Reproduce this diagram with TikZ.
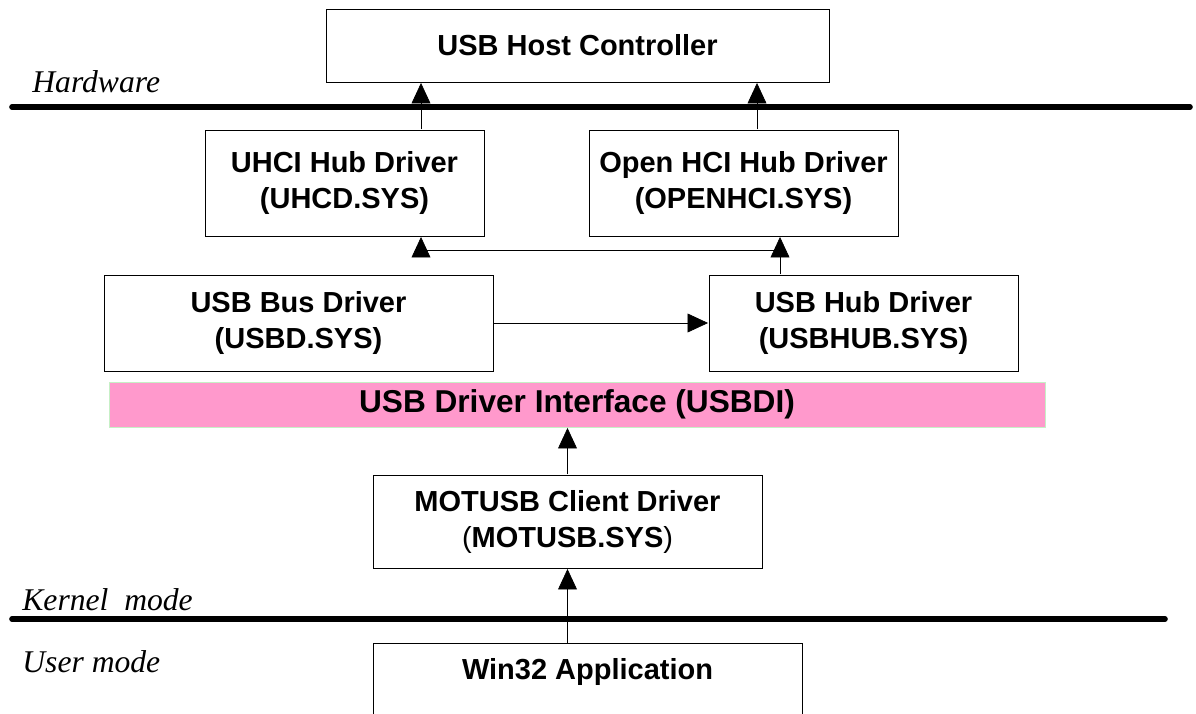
\documentclass[tikz,border=0pt]{standalone}
\usepackage{fontspec}
\setmainfont{Liberation Serif}
\setsansfont{Liberation Sans}
\usetikzlibrary{arrows.meta, positioning}
\definecolor{usbdipink}{HTML}{FF99CC}
\definecolor{usbdigreen}{HTML}{C6F0C6}

\begin{document}
\begin{tikzpicture}[x=0.02cm, y=-0.02cm]
			\tikzset {->, >={Triangle[length=12pt, width=11pt]}, line width=0.6pt,
				drvbox/.style={draw, rectangle, align=center, inner sep=0pt, font=\sffamily\bfseries\fontsize{16.5}{20.5}\selectfont},
				layer/.style={-, line width=3.2pt, line cap=round},
				side/.style={anchor=west, font=\itshape\fontsize{18}{20}\selectfont} }

			\useasboundingbox (0,0) rectangle (1196,713);

			% driver boxes
			\node[drvbox, minimum width=503*0.02cm, minimum height=73*0.02cm] (host) at (577.5,45.5) {USB Host Controller};
			\node[drvbox, minimum width=279*0.02cm, minimum height=106*0.02cm] (uhci) at (344.5,183) {UHCI Hub Driver\\(UHCD.SYS)};
			\node[drvbox, minimum width=309*0.02cm, minimum height=106*0.02cm] (ohci) at (743.5,183) {Open HCI Hub Driver\\(OPENHCI.SYS)};
			\node[drvbox, minimum width=389*0.02cm, minimum height=96*0.02cm] (bus) at (298.5,323) {USB Bus Driver\\(USBD.SYS)};
			\node[drvbox, minimum width=309*0.02cm, minimum height=96*0.02cm] (hub) at (863.5,323) {USB Hub Driver\\(USBHUB.SYS)};
			\node[drvbox, draw=usbdigreen, fill=usbdipink, minimum width=936*0.02cm, minimum height=45*0.02cm, font=\sffamily\bfseries\fontsize{18}{20}\selectfont] (usbdi) at (577,404.5) {USB Driver Interface (USBDI)};
			\node[drvbox, minimum width=389*0.02cm, minimum height=93*0.02cm] (mot) at (567.5,521.5) {MOTUSB Client Driver\\{\mdseries(}MOTUSB.SYS{\mdseries)}};
			\node[drvbox, minimum width=429*0.02cm, minimum height=110*0.02cm, anchor=north] (win) at (587.5,643) {};
			\node[font=\sffamily\bfseries\fontsize{16.5}{20.5}\selectfont] (wintext) at (587.5,672) {Win32 Application};

			% mode lines
			\coordinate (hwl) at (12,107);
			\coordinate (hwr) at (1190,107);
			\coordinate (kml) at (12,619);
			\coordinate (kmr) at (1165,619);
			\draw[layer] (hwl) -- (hwr);
			\draw[layer] (kml) -- (kmr);
			\node[side] (hw) at (26,82) {Hardware};
			\node[side] (km) at (16,600) {Kernel\ \ mode};
			\node[side] (um) at (16,662) {User mode};

			% connectors
			\coordinate (xu) at (421,0);
			\coordinate (xo) at (757,0);
			\coordinate (xh) at (780,0);
			\coordinate (j) at (780,250);
			\draw (uhci.north -| xu) -- (host.south -| xu);
			\draw (ohci.north -| xo) -- (host.south -| xo);
			\draw (hub.north -| xh) -- (ohci.south -| xh);
			\draw (j) -| (uhci.south -| xu);
			\draw (bus.east) -- (hub.west);
			\draw (mot.north) -- (usbdi.south -| mot.north);
			\draw (win.north -| mot.north) -- (mot.south);
		\end{tikzpicture}
\end{document}
